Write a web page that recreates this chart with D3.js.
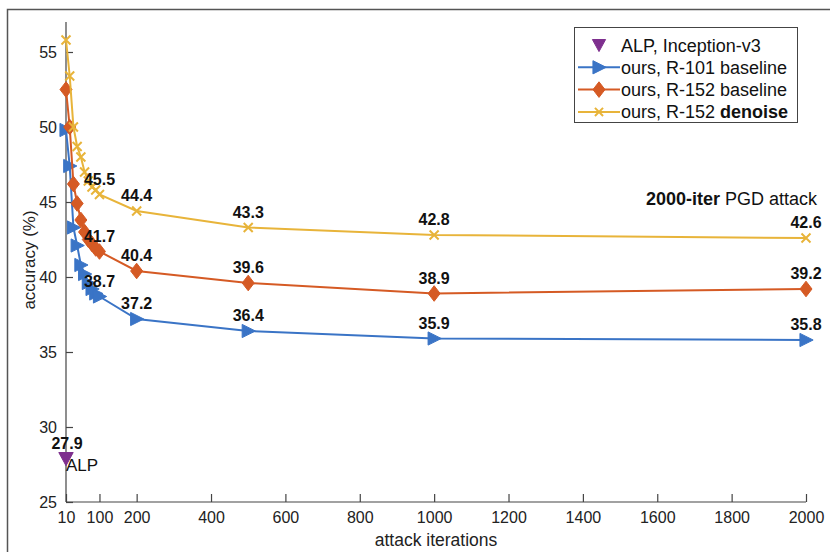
<!DOCTYPE html>
<html>
<head>
<meta charset="utf-8">
<script src="https://cdn.jsdelivr.net/npm/d3@7"></script>
<style>
  html, body { margin: 0; padding: 0; background: #fff; }
  svg { display: block; font-family: "Liberation Sans", Arial, Helvetica, sans-serif; }
</style>
</head>
<body>
<svg id="chart" width="830" height="552"></svg>
<script>
// ---- data ----
const iterations = [10, 20, 30, 40, 50, 60, 70, 80, 90, 100, 200, 500, 1000, 2000];
const r101Baseline = [49.8, 47.4, 43.3, 42.1, 40.8, 40.2, 39.6, 39.2, 38.9, 38.7, 37.2, 36.4, 35.9, 35.8];
const r152Baseline = [52.5, 50.0, 46.2, 44.9, 43.8, 43.0, 42.5, 42.2, 41.9, 41.7, 40.4, 39.6, 38.9, 39.2];
const r152Denoise = [55.8, 53.4, 50.0, 48.7, 48.0, 47.0, 46.4, 46.0, 45.8, 45.5, 44.4, 43.3, 42.8, 42.6];
const labeledIters = [100, 200, 500, 1000, 2000];
const alpIter = [10];
const alpAcc = [27.9];
const xTicks = [10, 100, 200, 400, 600, 800, 1000, 1200, 1400, 1600, 1800, 2000];
const yTicks = [25, 30, 35, 40, 45, 50, 55];
const legendLabels = ["ALP, Inception-v3", "ours, R-101 baseline", "ours, R-152 baseline", "ours, R-152 "];

const colors = { alp: "#7E2F8E", r101: "#3a74c6", r152: "#d55a24", den: "#e8b43a" };

const svg = d3.select("#chart");

// outer frame (screenshot border)
svg.append("rect").attr("x", 7.5).attr("y", 9.5).attr("width", 840).attr("height", 560)
  .attr("fill", "none").attr("stroke", "#555").attr("stroke-width", 1.5);

const x = d3.scaleLinear().domain([10, 2000]).range([66, 806]);
const y = d3.scaleLinear().domain([25, 57]).range([502, 22]);

// axes
const axisColor = "#444";
const xAxis = svg.append("g").attr("transform", "translate(0,502)")
  .call(d3.axisBottom(x).tickValues(xTicks).tickSize(-8).tickPadding(10).tickFormat(d3.format("d")));
const yAxis = svg.append("g").attr("transform", "translate(66,0)")
  .call(d3.axisLeft(y).tickValues(yTicks).tickSize(-7).tickPadding(9).tickFormat(d3.format("d")));
[xAxis, yAxis].forEach(g => {
  g.select(".domain").attr("stroke", axisColor).attr("stroke-width", 1.2);
  g.selectAll(".tick line").attr("stroke", axisColor).attr("stroke-width", 1.2);
  g.selectAll(".tick text").attr("fill", "#222").style("font-size", "16px")
    .style("font-family", "'Liberation Sans', Arial, sans-serif");
});
// domain lines without outer ticks
xAxis.select(".domain").attr("d", `M${x(10)},0H${x(2000)}`);
yAxis.select(".domain").attr("d", `M0,${y(25)}V${y(57)}`);

// axis titles
svg.append("text").attr("x", 436).attr("y", 546).attr("text-anchor", "middle")
  .style("font-size", "17.5px").attr("fill", "#222").text("attack iterations");
svg.append("text").attr("transform", "translate(35,260) rotate(-90)").attr("text-anchor", "middle")
  .style("font-size", "17px").attr("fill", "#222").text("accuracy (%)");

// markers
function drawMarker(g, type, color, size) {
  const s = size;
  if (type === "tri-right") {
    g.append("path").attr("d", `M${-s*0.55},${-s*0.6}L${s*0.65},0L${-s*0.55},${s*0.6}Z`).attr("fill", color).attr("stroke", color).attr("stroke-width", 1);
  } else if (type === "diamond") {
    g.append("path").attr("d", `M0,${-s*0.65}L${s*0.5},0L0,${s*0.65}L${-s*0.5},0Z`).attr("fill", color).attr("stroke", color).attr("stroke-width", 1);
  } else if (type === "x") {
    g.append("path").attr("d", `M${-s*0.45},${-s*0.45}L${s*0.45},${s*0.45}M${-s*0.45},${s*0.45}L${s*0.45},${-s*0.45}`).attr("stroke", color).attr("stroke-width", 2).attr("fill", "none");
  } else if (type === "tri-down") {
    g.append("path").attr("d", `M${-s*0.6},${-s*0.5}L${s*0.6},${-s*0.5}L0,${s*0.6}Z`).attr("fill", color).attr("stroke", color).attr("stroke-width", 1);
  }
}

const series = [
  { vals: r101Baseline, color: colors.r101, marker: "tri-right", size: 11 },
  { vals: r152Baseline, color: colors.r152, marker: "diamond", size: 12 },
  { vals: r152Denoise, color: colors.den, marker: "x", size: 10 }
];

const line = d3.line().x(d => x(d[0])).y(d => y(d[1]));
series.forEach(s => {
  const pts = iterations.map((it, i) => [it, s.vals[i]]);
  svg.append("path").datum(pts).attr("d", line).attr("fill", "none")
    .attr("stroke", s.color).attr("stroke-width", 2);
  pts.forEach(p => {
    const g = svg.append("g").attr("transform", `translate(${x(p[0])},${y(p[1])})`);
    drawMarker(g, s.marker, s.color, s.size);
  });
});

// data labels
series.forEach(s => {
  labeledIters.forEach(it => {
    const i = iterations.indexOf(it);
    svg.append("text").attr("x", x(it)).attr("y", y(s.vals[i]) - 10)
      .attr("text-anchor", "middle").style("font-size", "16px").style("font-weight", "bold")
      .attr("fill", "#111").text(s.vals[i].toFixed(1));
  });
});

// ALP point
alpIter.forEach((it, i) => {
  const g = svg.append("g").attr("transform", `translate(${x(it)},${y(alpAcc[i])})`);
  drawMarker(g, "tri-down", colors.alp, 12);
  svg.append("text").attr("x", x(it) + 1).attr("y", y(alpAcc[i]) - 10)
    .attr("text-anchor", "middle").style("font-size", "16px").style("font-weight", "bold")
    .attr("fill", "#111").text(alpAcc[i].toFixed(1));
  svg.append("text").attr("x", x(it)).attr("y", y(alpAcc[i]) + 12)
    .style("font-size", "17px").attr("fill", "#111").text("ALP");
});

// annotation
const ann = svg.append("text").attr("x", 817).attr("y", 205).attr("text-anchor", "end")
  .style("font-size", "18px").attr("fill", "#111");
ann.append("tspan").style("font-weight", "bold").text("2000-iter");
ann.append("tspan").text(" PGD attack");

// legend
const lg = svg.append("g");
lg.append("rect").attr("x", 574.5).attr("y", 27.5).attr("width", 223).attr("height", 95)
  .attr("fill", "#fff").attr("stroke", "#444").attr("stroke-width", 1);
const legItems = [
  { label: legendLabels[0], color: colors.alp, marker: "tri-down", size: 11, line: false },
  { label: legendLabels[1], color: colors.r101, marker: "tri-right", size: 11, line: true },
  { label: legendLabels[2], color: colors.r152, marker: "diamond", size: 12, line: true },
  { label: legendLabels[3], color: colors.den, marker: "x", size: 9, line: true, bold: "denoise" }
];
legItems.forEach((d, i) => {
  const cy = 45 + i * 22.3;
  if (d.line) {
    lg.append("line").attr("x1", 578).attr("x2", 620).attr("y1", cy).attr("y2", cy)
      .attr("stroke", d.color).attr("stroke-width", 2);
  }
  const g = lg.append("g").attr("transform", `translate(599,${cy})`);
  drawMarker(g, d.marker, d.color, d.size);
  const t = lg.append("text").attr("x", 621).attr("y", cy + 6.5)
    .style("font-size", "18px").attr("fill", "#111");
  t.append("tspan").text(d.label);
  if (d.bold) t.append("tspan").style("font-weight", "bold").text(d.bold);
});
</script>
</body>
</html>
